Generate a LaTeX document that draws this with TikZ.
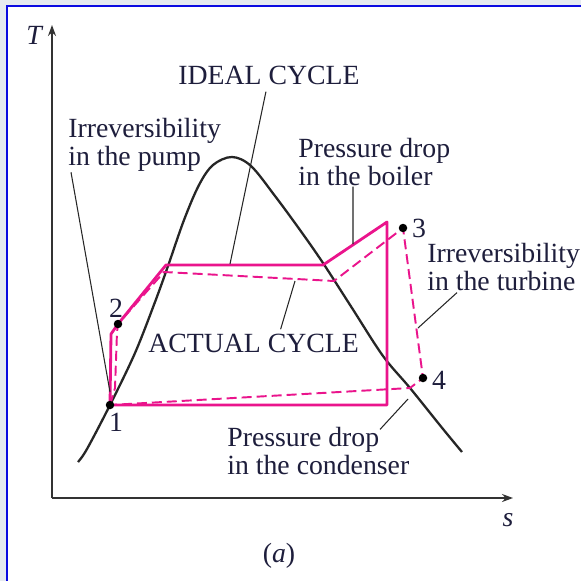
\documentclass[tikz,border=0pt]{standalone}
\usepackage{fontspec}
\setmainfont{Liberation Serif}
\usetikzlibrary{arrows.meta}

\definecolor{cyclepink}{RGB}{234,20,140}
\definecolor{inkblue}{RGB}{30,30,60}
\definecolor{pagegray}{RGB}{229,234,240}
\definecolor{frameblue}{RGB}{10,10,225}

\begin{document}
\begin{tikzpicture}[x=0.02cm, y=-0.02cm, >={Stealth[length=0.22cm, width=0.16cm]}]
        \tikzstyle{labeltext}=[inner sep=0pt, anchor=base west, align=left, text=inkblue, font=\fontsize{15.8}{15.9}\selectfont]
        \tikzstyle{leader}=[line width=0.6pt, black!85]
        \tikzstyle{ideal}=[line width=1.6pt, cyclepink, line join=round]
        \tikzstyle{actual}=[line width=1.1pt, cyclepink, dash pattern=on 0.2cm off 0.1cm, line join=round]
        \tikzstyle{statedot}=[circle, fill=black, inner sep=0pt, minimum size=0.17cm]
        % frame
        \useasboundingbox (0,0) rectangle (581,581);
        \fill[pagegray] (0,0) rectangle (581,581);
        \fill[white] (7,6) rectangle (581,581);
        \draw[frameblue, line width=1.2pt] (7,581) -- (7,6) -- (581,6);
        % axes
        \coordinate (origin) at (52,498);
        \coordinate (ttip) at (52,25);
        \coordinate (stip) at (513,498);
        \draw[line width=1.1pt, black!80, ->] (origin) -- (ttip);
        \draw[line width=1.1pt, black!80, ->] (origin) -- (stip);
        \node[labeltext, anchor=center] (tlabel) at (35,35) {\textit{T}};
        \node[labeltext, anchor=center] (slabel) at (508,520) {\textit{s}};
        % saturation dome
        \draw[line width=1.3pt, black!85] plot[smooth, tension=0.55] coordinates {(78,462) (87,449) (110,405) (135,353) (155,302) (168,266) (184,220) (199,185) (213,165) (232,157) (251,166) (275,196) (300,230) (323,263) (352,308) (383,356) (410,388) (443,429) (462,452)};
        % states
        \coordinate (s1) at (110,405);
        \coordinate (s2) at (118,324);
        \coordinate (s3) at (403,228);
        \coordinate (s4) at (423,378);
        % ideal cycle
        \draw[ideal] (s1) -- (111,334) -- (s2) -- (166,265) -- (323,265) -- (387,222) -- (387,405) -- (s1);
        % actual cycle
        \draw[actual] (s1) -- (115,388) -- (117,332) -- (s2) -- (164,272) -- (334,281) -- (s3) -- (s4) -- (410,388) -- (s1);
        \foreach \x in {s1,s2,s3,s4} {
            \node[statedot] at (\x) {};
        }
        \node[labeltext, anchor=center] (n1) at (116,422) {1};
        \node[labeltext, anchor=center] (n2) at (116,308) {2};
        \node[labeltext, anchor=center] (n3) at (419,228) {3};
        \node[labeltext, anchor=center] (n4) at (439,380) {4};
        % labels
        \node[labeltext] (idealtext) at (178,85) {IDEAL CYCLE};
        \node[labeltext] (pump) at (68,165) {Irreversibility\\in the pump};
        \node[labeltext] (boiler) at (298,185) {Pressure drop\\in the boiler};
        \node[labeltext] (turbine) at (427,290) {Irreversibility\\in the turbine};
        \node[labeltext] (actualtext) at (148,352) {ACTUAL CYCLE};
        \node[labeltext] (condenser) at (227,474) {Pressure drop\\in the condenser};
        \node[labeltext, anchor=center] (caption) at (279,556) {(\textit{a})};
        % leaders
        \coordinate (pumpend) at (110,392);
        \coordinate (idealend) at (230,264);
        \coordinate (boilerend) at (353,244);
        \coordinate (actualend) at (295,281);
        \coordinate (turbineend) at (418,328);
        \coordinate (condenserend) at (408,399);
        \draw[leader] ([xshift=0.06cm, yshift=-0.02cm]pump.south west) -- (pumpend);
        \draw[leader] ([xshift=-0.06cm, yshift=-0.12cm]idealtext.south) -- (idealend);
        \draw[leader] ([xshift=1.1cm, yshift=-0.02cm]boiler.south west) -- (boilerend);
        \draw[leader] ([xshift=0.54cm, yshift=0.08cm]actualtext.north) -- (actualend);
        \draw[leader] ([xshift=0.6cm, yshift=-0.04cm]turbine.south west) -- (turbineend);
        \draw[leader] ([xshift=3.06cm, yshift=-0.06cm]condenser.north west) -- (condenserend);
    \end{tikzpicture}
\end{document}
